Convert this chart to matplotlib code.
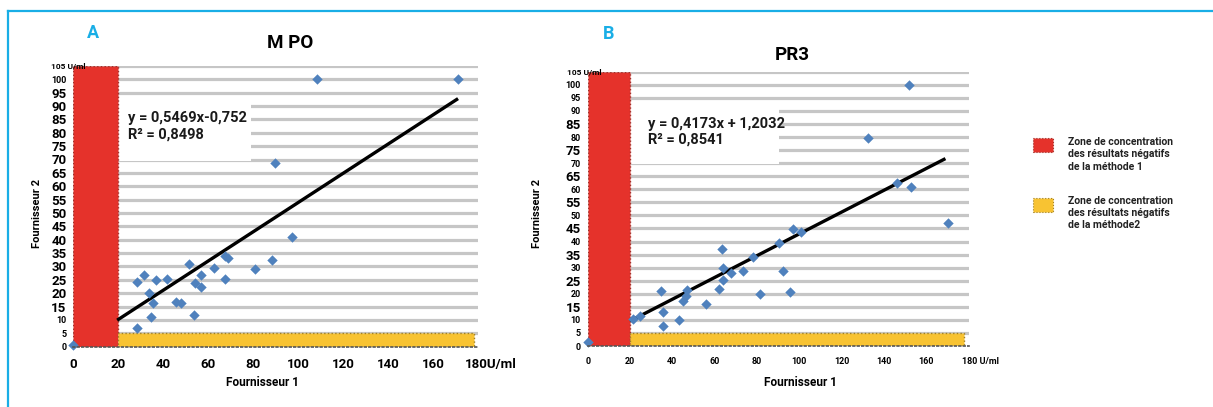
import matplotlib
matplotlib.use("Agg")
import matplotlib.pyplot as plt
from matplotlib.patches import Rectangle
from matplotlib.lines import Line2D
import matplotlib.transforms as mtransforms

plt.rcParams['font.family'] = ['Roboto', 'DejaVu Sans']

# ---------------- data ----------------
mpo_x = [0, 28.4, 28.4, 31.4, 33.8, 34.5, 35.3, 36.7, 41.5, 45.6, 47.9, 51.6, 53.8,
         54.1, 56.9, 56.9, 62.7, 67.4, 67.4, 68.9, 80.7, 88.1, 89.6, 97.0, 108.1, 170.8]
mpo_y = [0.5, 6.9, 24.1, 26.9, 20.0, 11.2, 16.5, 24.9, 25.2, 16.8, 16.2, 30.9, 11.8,
         23.7, 26.8, 22.4, 29.3, 33.9, 25.2, 33.2, 28.9, 32.4, 68.8, 41.1, 100, 100]
mpo_slope, mpo_icpt = 0.5469, -0.752
mpo_line_x = [19.5, 171.0]
mpo_eq = ["y = 0,5469x-0,752", "R² = 0,8498"]

pr3_x = [0, 21.3, 24.7, 34.5, 35.7, 35.7, 43.3, 44.9, 46.3, 46.8, 55.9, 62.2, 63.3,
         63.8, 64.1, 67.6, 73.5, 78.3, 81.4, 90.6, 92.4, 95.6, 97.2, 100.8, 132.6,
         146.3, 151.8, 152.8, 170.4]
pr3_y = [1.5, 10.2, 11.5, 21.2, 12.9, 7.7, 10.0, 17.4, 19.2, 21.5, 16.0, 21.7, 37.2,
         25.3, 30.0, 27.8, 28.9, 34.2, 19.8, 39.3, 28.9, 20.8, 44.7, 43.8, 79.8,
         62.3, 100, 60.7, 47.0]
pr3_slope, pr3_icpt = 0.4173, 1.2032
pr3_line_x = [20.0, 169.0]
pr3_eq = ["y = 0,4173x + 1,2032", "R² = 0,8541"]

x_ticks = [0, 20, 40, 60, 80, 100, 120, 140, 160, 180]
y_ticks = list(range(0, 101, 5))
grid_levels = list(range(5, 106, 5))

legend_texts = ["Zone de concentration\ndes résultats négatifs\nde la méthode 1",
                "Zone de concentration\ndes résultats négatifs\nde la méthode2"]

RED = '#e5322b'
YEL = '#f8c332'
BLUE = '#4f81bd'
CYAN = '#19aee6'
GRID = '#c6c6c6'

W, H = 1213, 407
fig = plt.figure(figsize=(W / 100, H / 100), dpi=100)
fig.patch.set_facecolor('white')


def px_axes(l, r, t, b):
    return fig.add_axes([l / W, 1 - b / H, (r - l) / W, (b - t) / H])


def draw_panel(ax, xs, ys, slope, icpt, lx, eq, eq_pos, box, big_ticks, last_xlabel,
               xfs, title, title_xy, letter, letter_xy, ylab_x, xlab_xy):
    ax.set_xlim(0, 180)
    ax.set_ylim(0, 105)
    for s in ['top', 'right', 'left']:
        ax.spines[s].set_visible(False)
    ax.spines['bottom'].set_linestyle(':')
    ax.spines['bottom'].set_color('#555555')
    ax.spines['bottom'].set_linewidth(1.2)
    ax.spines['bottom'].set_zorder(6)
    for g in grid_levels:
        ax.axhline(g, color=GRID, lw=2.3, zorder=1)
    # white box behind equation
    ax.add_patch(Rectangle((box[0], box[2]), box[1] - box[0], box[3] - box[2],
                           facecolor='white', edgecolor='none', zorder=2))
    # zones
    ax.add_patch(Rectangle((0, 0), 20, 105, facecolor=RED, edgecolor='#a0302a',
                           lw=1.0, ls=':', zorder=3))
    ax.add_patch(Rectangle((20, 0), 158, 5, facecolor=YEL, edgecolor='#a08020',
                           lw=1.0, ls=':', zorder=3))
    # trend line
    ly = [slope * v + icpt for v in lx]
    ax.plot(lx, ly, color='black', lw=2.4, zorder=4, solid_capstyle='butt')
    ax.scatter(xs, ys, marker='D', s=28, color=BLUE, zorder=5, clip_on=False,
               linewidths=0)
    ax.text(eq_pos[0], eq_pos[1], eq[0], fontsize=10.5, fontweight='bold',
            zorder=6, va='center', color='#1a1a1a')
    ax.text(eq_pos[0], eq_pos[2], eq[1], fontsize=10.5, fontweight='bold',
            zorder=6, va='center', color='#1a1a1a')
    # ticks
    ax.set_xticks(x_ticks)
    labels = [str(v) for v in x_ticks[:-1]] + [last_xlabel]
    ax.set_xticklabels(labels, fontsize=xfs, fontweight='bold')
    ax.tick_params(axis='x', length=0, pad=8)
    lab = ax.get_xticklabels()[-1]
    lab.set_transform(lab.get_transform() +
                      mtransforms.ScaledTranslation(12 / 100, 0, fig.dpi_scale_trans))
    ax.set_yticks(y_ticks)
    ax.set_yticklabels([str(v) for v in y_ticks], fontweight='bold')
    for v, t in zip(y_ticks, ax.get_yticklabels()):
        t.set_fontsize(9.5 if v in big_ticks else 6.5)
    ax.tick_params(axis='y', length=0, pad=5)
    ax.text(-10, 105, "105 U/ml", fontsize=6, fontweight='bold', ha='left',
            va='center', zorder=7, clip_on=False)
    fig.text(title_xy[0] / W, 1 - title_xy[1] / H, title, fontsize=13.5,
             fontweight='bold', ha='center', va='center')
    fig.text(letter_xy[0] / W, 1 - letter_xy[1] / H, letter, fontsize=13,
             fontweight='bold', ha='center', va='center', color=CYAN)
    fig.text(ylab_x / W, 1 - 213 / H, "Fournisseur 2", fontsize=8,
             fontweight='bold', rotation=90, ha='center', va='center')
    fig.text(xlab_xy[0] / W, 1 - xlab_xy[1] / H, "Fournisseur 1", fontsize=8.5,
             fontweight='bold', ha='center', va='center')


axA = px_axes(73.3, 478.3, 65.9, 346.7)
draw_panel(axA, mpo_x, mpo_y, mpo_slope, mpo_icpt, mpo_line_x, mpo_eq,
           (24.4, 85.4, 79.2), (20, 79, 69.5, 92.5),
           set(range(15, 96, 5)), "180U/ml", 9.5,
           "M PO", (290, 43), "A", (93, 33), 37, (262, 382))

axB = px_axes(587.7, 968.7, 71.7, 346.0)
draw_panel(axB, pr3_x, pr3_y, pr3_slope, pr3_icpt, pr3_line_x, pr3_eq,
           (28.7, 84.9, 78.9), (20, 90.5, 69.5, 92.5),
           {85, 75, 65, 55, 45, 35, 25, 15}, "180 U/ml", 6.5,
           "PR3", (792, 55), "B", (609, 34), 537, (800, 383))

# legend
fig.patches.append(Rectangle((1033 / W, 1 - 152 / H), 20 / W, 14 / H, facecolor=RED,
                             edgecolor='#a0302a', ls=':', lw=0.8,
                             transform=fig.transFigure, figure=fig))
fig.patches.append(Rectangle((1033 / W, 1 - 212 / H), 20 / W, 14 / H, facecolor=YEL,
                             edgecolor='#a08020', ls=':', lw=0.8,
                             transform=fig.transFigure, figure=fig))
fig.text(1068 / W, 1 - 137 / H, legend_texts[0], fontsize=7.5, fontweight='bold',
         ha='left', va='top', linespacing=1.3, color='#222222')
fig.text(1068 / W, 1 - 196 / H, legend_texts[1], fontsize=7.5, fontweight='bold',
         ha='left', va='top', linespacing=1.25, color='#222222')

# cyan frame (top and left)
fig.add_artist(Line2D([8 / W, 1.0], [1 - 11 / H, 1 - 11 / H], color=CYAN, lw=1.6,
                      transform=fig.transFigure))
fig.add_artist(Line2D([8 / W, 8 / W], [1 - 11 / H, 0], color=CYAN, lw=1.6,
                      transform=fig.transFigure))

fig.savefig("out.png", dpi=100, facecolor='white')
